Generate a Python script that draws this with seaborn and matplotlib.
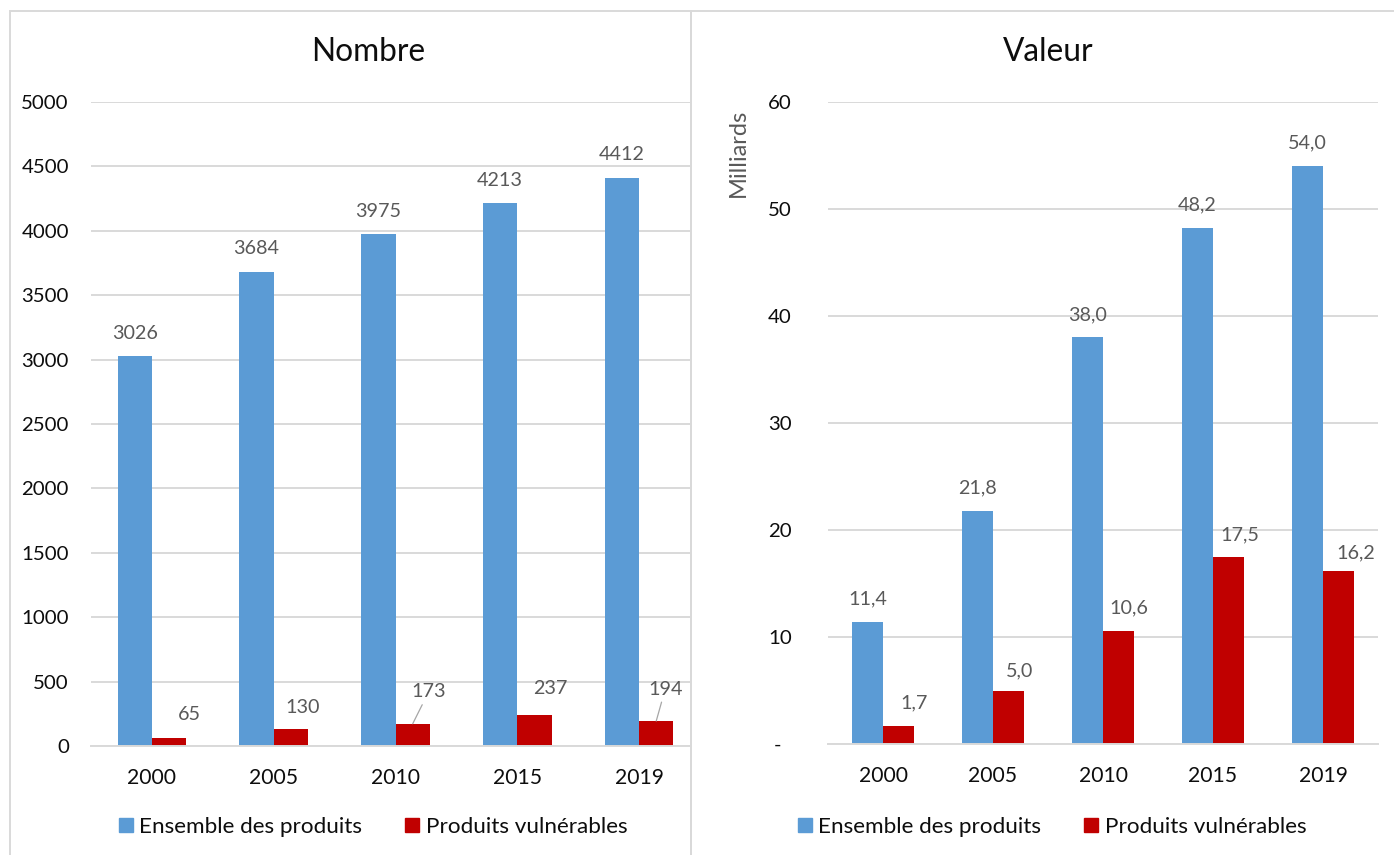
import numpy as np
import pandas as pd
import matplotlib
matplotlib.use("Agg")
import matplotlib.pyplot as plt
from matplotlib.patches import Patch, Rectangle
import seaborn as sns

# data
annees = ["2000", "2005", "2010", "2015", "2019"]
series = ["Ensemble des produits", "Produits vulnérables"]
nombre_ensemble = [3026, 3684, 3975, 4213, 4412]
nombre_vulnerables = [65, 130, 173, 237, 194]
valeur_ensemble = [11.4, 21.8, 38.0, 48.2, 54.0]
valeur_vulnerables = [1.7, 5.0, 10.6, 17.5, 16.2]

couleurs = ["#5B9BD5", "#C00000"]
gris_label = "#595959"
gris_ligne = "#D9D9D9"
noir = "#0D0D0D"

# label offsets (pixels, from top centre of each bar) for the red series
off_nombre = [(20, 23), (12, 22), (16, 32), (16, 27), (9, 32)]
leader_nombre = [False, False, True, False, True]
off_valeur = [(15, 23), (11, 20), (10, 23), (11, 22), (17, 18)]


def long_df(ens, vul):
    return pd.DataFrame({
        "annee": annees * 2,
        "serie": [series[0]] * 5 + [series[1]] * 5,
        "valeur": list(ens) + list(vul),
    })


sns.set_style("white")
plt.rcParams["font.family"] = ["Lato", "DejaVu Sans"]

W, H = 1394, 855
fig = plt.figure(figsize=(W / 100, H / 100), dpi=100)

ax1 = fig.add_axes([91 / W, 1 - 746 / H, 600 / W, 644 / H])
ax2 = fig.add_axes([828 / W, 1 - 744 / H, 550 / W, 642 / H])

sns.barplot(data=long_df(nombre_ensemble, nombre_vulnerables), x="annee", y="valeur",
            hue="serie", hue_order=series, palette=couleurs, width=0.566,
            legend=False, ax=ax1, saturation=1, linewidth=0)
sns.barplot(data=long_df(valeur_ensemble, valeur_vulnerables), x="annee", y="valeur",
            hue="serie", hue_order=series, palette=couleurs, width=0.566,
            legend=False, ax=ax2, saturation=1, linewidth=0)

ax1.set_xlim(-0.501, 4.427)
ax1.set_ylim(0, 5000)
ax1.set_yticks(np.arange(0, 5001, 500))
ax1.set_yticklabels([str(v) for v in range(0, 5001, 500)])

ax2.set_xlim(-0.5, 4.5)
ax2.set_ylim(0, 60)
ax2.set_yticks(np.arange(0, 61, 10))
ax2.set_yticklabels(["-  "] + [str(v) for v in range(10, 61, 10)])

for ax, pad in ((ax1, 16), (ax2, 26)):
    ax.set_xlabel("")
    ax.set_ylabel("")
    for s in ("left", "right", "top"):
        ax.spines[s].set_visible(False)
    ax.spines["bottom"].set_color(gris_ligne)
    ax.spines["bottom"].set_linewidth(1.4)
    ax.yaxis.grid(True, color=gris_ligne, lw=1.4)
    ax.set_axisbelow(True)
    ax.tick_params(axis="y", length=0, pad=pad, labelsize=14.7, labelcolor=noir)
    ax.tick_params(axis="x", length=0, pad=16, labelsize=15.2, labelcolor=noir)

# data labels
def etiquettes(ax, ens_fmt, vul_fmt, offsets, leaders):
    bleu, rouge = ax.containers[0], ax.containers[1]
    for bar in bleu:
        h = bar.get_height()
        ax.annotate(ens_fmt(h), (bar.get_x() + bar.get_width() / 2, h),
                    xytext=(0, 23), textcoords="offset pixels",
                    ha="center", va="center", fontsize=14.2, color=gris_label)
    for bar, (dx, dy), lead in zip(rouge, offsets, leaders):
        h = bar.get_height()
        props = None
        if lead:
            props = dict(arrowstyle="-", color="#A6A6A6", lw=0.9, shrinkA=1, shrinkB=0)
        ax.annotate(vul_fmt(h), (bar.get_x() + bar.get_width() / 2, h),
                    xytext=(dx, dy), textcoords="offset pixels",
                    ha="center", va="center", fontsize=14.2, color=gris_label,
                    arrowprops=props)


etiquettes(ax1, lambda v: f"{v:.0f}", lambda v: f"{v:.0f}", off_nombre, leader_nombre)
etiquettes(ax2, lambda v: f"{v:.1f}".replace(".", ","), lambda v: f"{v:.1f}".replace(".", ","),
           off_valeur, [False] * 5)

# titles and axis title
fig.text(368 / W, 1 - 52 / H, "Nombre", ha="center", va="center", fontsize=22.8, color=noir)
fig.text(1048 / W, 1 - 52 / H, "Valeur", ha="center", va="center", fontsize=22.8, color=noir)
fig.text(738 / W, 1 - 153 / H, "Milliards", ha="center", va="center", rotation=90,
         fontsize=17, color=gris_label)

# legends
handles = [Patch(facecolor=c, edgecolor=c) for c in couleurs]
for cx in (373, 1052):
    fig.legend(handles, series, loc="center", bbox_to_anchor=(cx / W, 1 - 827 / H),
               ncol=2, frameon=False, fontsize=16.2, handlelength=0.62, handleheight=0.62,
               handletextpad=0.3, columnspacing=1.9, labelcolor=noir)

# chart frames
fig.add_artist(Rectangle((10 / W, -0.05), 681 / W, (855 - 11) / H + 0.05,
                         transform=fig.transFigure, fill=False, ec=gris_ligne, lw=1.4))
fig.add_artist(Rectangle((691 / W, -0.05), 1.0, (855 - 11) / H + 0.05,
                         transform=fig.transFigure, fill=False, ec=gris_ligne, lw=1.4))

fig.savefig("out.png", dpi=100)
